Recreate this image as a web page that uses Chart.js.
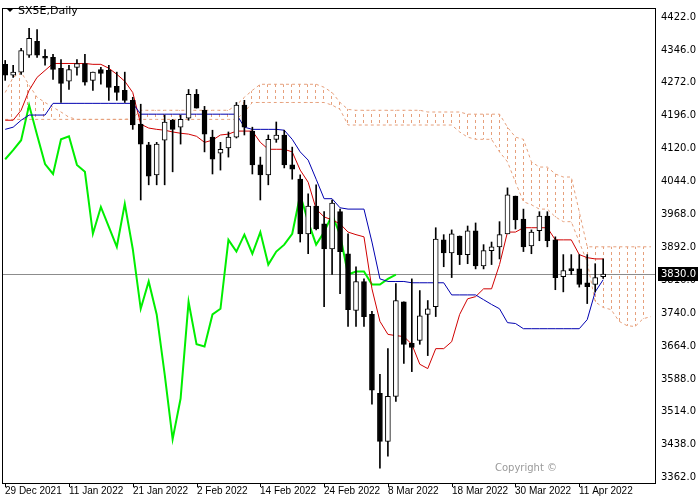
<!DOCTYPE html>
<html>
<head>
<meta charset="utf-8">
<script src="https://cdn.jsdelivr.net/npm/chart.js@4/dist/chart.umd.min.js"></script>
<style>
  body { margin: 0; background: #fff; }
  #wrap { width: 700px; height: 500px; }
</style>
</head>
<body>
<div id="wrap"><canvas id="chart" width="700" height="500"></canvas></div>
<script>
// SX5E daily, 29 Dec 2021 .. 14 Apr 2022, with Ichimoku lines
const opens  = [4314,4289,4296,4335,4367,4330,4330,4305,4275,4307,4316,4277,4302,4300,4263,4254,4231,4176,4128,4059,
                4139,4185,4169,4190,4245,4208,4146,4109,4121,4146,4220,4160,4082,4059,4141,4151,4082,4049,3923,3987,
                3946,3888,3974,3877,3746,3813,3737,3555,3444,3548,3766,3670,3677,3737,3755,3909,3879,3918,3875,3930,
                3849,3884,3893,3923,4010,3957,3895,3930,3964,3909,3824,3840,3842,3810,3806,3824];
const highs  = [4323,4312,4351,4397,4394,4348,4337,4325,4312,4325,4337,4296,4307,4312,4296,4296,4238,4222,4134,4134,
                4197,4187,4197,4256,4256,4217,4162,4134,4158,4226,4231,4169,4100,4151,4181,4162,4123,4059,4015,4036,
                3974,4001,3980,3923,3847,3819,3744,3599,3658,3808,3766,3819,3792,3769,3937,3921,3932,3918,3941,3948,
                3898,3904,3951,4029,4010,3980,3932,3974,3974,3916,3875,3875,3875,3875,3854,3865];
const lows   = [4277,4284,4291,4330,4330,4312,4279,4226,4256,4289,4266,4254,4268,4231,4231,4226,4164,4001,4036,4036,
                4036,4066,4130,4185,4213,4112,4061,4070,4100,4144,4151,4061,4001,4036,4134,4075,4049,3904,3877,3932,
                3755,3829,3785,3709,3709,3709,3530,3382,3410,3536,3624,3605,3668,3642,3732,3847,3822,3852,3854,3842,
                3842,3852,3865,3923,3934,3882,3877,3907,3893,3794,3789,3829,3800,3762,3789,3820];
const closes = [4289,4296,4346,4374,4335,4328,4302,4270,4302,4316,4273,4296,4293,4261,4249,4231,4174,4130,4056,4130,
                4181,4164,4187,4245,4213,4153,4095,4118,4146,4220,4169,4082,4059,4141,4151,4082,4072,3923,3987,3934,
                3888,3994,3882,3748,3813,3732,3562,3444,3548,3769,3668,3661,3734,3750,3911,3879,3923,3875,3930,3849,
                3884,3893,3921,4013,3955,3893,3927,3964,3907,3822,3838,3838,3806,3801,3822,3830];

const tenkan = [4185,4185,4208,4254,4284,4300,4316,4316,4316,4316,4316,4314,4314,4305,4291,4275,4249,4176,4167,4164,
                4162,4158,4155,4153,4148,4134,4139,4151,4153,4160,4160,4160,4134,4118,4118,4118,4112,4070,4042,3980,
                3962,3955,3946,3927,3921,3916,3796,3721,3691,3688,3686,3668,3622,3612,3658,3658,3674,3737,3773,3778,
                3796,3796,3852,3927,3927,3937,3937,3937,3937,3909,3909,3909,3875,3868,3865,3865];
const kijun  = [4164,4169,4185,4197,4197,4197,4224,4224,4224,4224,4224,4224,4224,4224,4224,4224,4224,4199,4199,4199,
                4199,4199,4199,4199,4199,4199,4199,4199,4199,4199,4169,4164,4164,4164,4164,4162,4141,4112,4093,4049,
                4004,4004,3983,3980,3980,3980,3904,3819,3813,3813,3813,3810,3810,3810,3810,3810,3782,3782,3782,3782,
                3771,3760,3750,3718,3716,3704,3704,3704,3704,3704,3704,3704,3704,3725,3789,3817];
// lagging span (close shifted 26 bars back)
const chikou = [4095,4116,4139,4220,4151,4084,4061,4141,4148,4082,4066,3923,3985,3939,3893,3992,3888,3750,3813,3737,
                3599,3449,3543,3766,3668,3663,3737,3750,3909,3882,3921,3877,3927,3852,3882,3898,3923,4013,3951,3898,
                3927,3967,3921,3829,3836,3836,3806,3806,3819,3829];
// cloud spans (run 6 bars past the last candle)
const spanA  = [4249,4284,4296,4266,4238,4226,4215,4204,4192,4187,4187,4187,4187,4187,4187,4187,4190,4208,4208,4208,
                4208,4208,4208,4208,4208,4208,4208,4208,4208,4220,4238,4254,4268,4268,4268,4268,4268,4268,4268,4268,
                4261,4249,4226,4210,4208,4208,4208,4208,4208,4208,4208,4208,4208,4204,4204,4204,4204,4204,4199,4199,
                4199,4199,4199,4169,4146,4141,4089,4077,4077,4061,4054,4054,3974,3893,3893,3893,3893,3893,3893,3893,
                3893,3893];
const spanB  = [4187,4187,4187,4187,4187,4187,4187,4187,4187,4187,4187,4187,4187,4187,4187,4187,4187,4187,4187,4187,
                4187,4187,4187,4187,4187,4187,4187,4187,4187,4187,4204,4226,4226,4226,4226,4226,4226,4226,4226,4226,
                4226,4220,4210,4174,4174,4174,4174,4174,4174,4174,4174,4174,4174,4174,4174,4174,4174,4158,4146,4141,
                4141,4141,4112,4089,4042,3997,3990,3980,3980,3962,3951,3951,3904,3858,3766,3753,3748,3721,3711,3709,
                3727,3732];

const dateLabels = ['29 Dec 2021','11 Jan 2022','21 Jan 2022','2 Feb 2022','14 Feb 2022',
                    '24 Feb 2022','8 Mar 2022','18 Mar 2022','30 Mar 2022','11 Apr 2022'];
const priceTicks = [3362,3438,3514,3588,3664,3740,3816,3892,3968,4044,4120,4196,4272,4346,4422];

const pts = arr => arr.map((v, i) => ({ x: i, y: v }));
const lastClose = closes[closes.length - 1];

// vertical dashed hatching for the cloud
function hatchPattern() {
    const c = document.createElement('canvas');
    c.width = 8; c.height = 6;
    const g = c.getContext('2d');
    g.fillStyle = '#e6a07c';
    g.fillRect(3, 0, 1, 3);
    return g.createPattern(c, 'repeat');
}

const framePlugin = {
    id: 'frame',
    beforeDatasetsDraw(chart) {
        const { ctx, chartArea: a, scales } = chart;
        const y = Math.round(scales.y.getPixelForValue(lastClose)) + 0.5;
        ctx.save();
        ctx.strokeStyle = '#8c8c8c';
        ctx.lineWidth = 1;
        ctx.beginPath(); ctx.moveTo(a.left, y); ctx.lineTo(a.right, y); ctx.stroke();
        ctx.restore();
    },
    afterDraw(chart) {
        const { ctx, chartArea: a, scales } = chart;
        ctx.save();
        ctx.strokeStyle = '#000';
        ctx.lineWidth = 1;
        ctx.strokeRect(a.left + 0.5, a.top + 0.5, a.right - a.left, a.bottom - a.top);
        // date labels, left-aligned at their bar
        ctx.fillStyle = '#000';
        ctx.font = '10px "Liberation Sans"';
        ctx.textBaseline = 'top';
        dateLabels.forEach((t, k) => {
            const x = Math.round(scales.x.getPixelForValue(k * 8));
            ctx.fillRect(x, a.bottom, 1, 4);
            ctx.fillText(t, x, a.bottom + 3);
        });
        // title
        ctx.beginPath(); ctx.moveTo(6, 8); ctx.lineTo(14, 8); ctx.lineTo(10, 12); ctx.fill();
        ctx.font = '11px "DejaVu Sans"';
        ctx.textBaseline = 'middle';
        ctx.fillText('SX5E,Daily', 18, 11);
        // last price tag
        const y = Math.round(scales.y.getPixelForValue(lastClose));
        ctx.fillRect(a.right + 3, y - 7, 40, 14);
        ctx.fillStyle = '#fff';
        ctx.font = '10px "DejaVu Sans"';
        ctx.fillText(lastClose.toFixed(1), a.right + 6, y);
        // watermark
        ctx.fillStyle = '#9a9a9a';
        ctx.fillText('Copyright ©', a.right - 160, a.bottom - 15);
        ctx.restore();
    }
};

const ctx = document.getElementById('chart').getContext('2d');
new Chart(ctx, {
    data: {
        datasets: [
            { type: 'line', data: pts(spanA), borderColor: '#e6a07c', borderWidth: 1, borderDash: [3, 3],
              pointRadius: 0, fill: '+1', backgroundColor: hatchPattern(), order: 5 },
            { type: 'line', data: pts(spanB), borderColor: '#e6a07c', borderWidth: 1, borderDash: [3, 3],
              pointRadius: 0, fill: false, order: 5 },
            { type: 'line', data: pts(chikou), borderColor: '#00ee00', borderWidth: 2, pointRadius: 0, order: 4 },
            { type: 'line', data: pts(kijun), borderColor: '#0000b0', borderWidth: 1, pointRadius: 0, order: 3 },
            { type: 'line', data: pts(tenkan), borderColor: '#d00000', borderWidth: 1, pointRadius: 0, order: 3 },
            { type: 'bar', data: lows.map((l, i) => ({ x: i, y: [l, highs[i]] })), backgroundColor: '#000',
              barThickness: 1, grouped: false, order: 2 },
            { type: 'bar', data: opens.map((o, i) => ({ x: i, y: [o, closes[i]] })),
              backgroundColor: opens.map((o, i) => closes[i] >= o ? '#fff' : '#000'),
              borderColor: '#000', borderWidth: 1, borderSkipped: false, minBarLength: 2,
              barThickness: 5, grouped: false, order: 1 }
        ]
    },
    options: {
        responsive: false,
        animation: false,
        layout: { padding: { left: 2, top: 3, right: 0, bottom: 0 } },
        plugins: { legend: { display: false }, tooltip: { enabled: false } },
        scales: {
            x: {
                type: 'linear', min: -0.4, max: 81.5, offset: false,
                grid: { display: false },
                border: { display: false },
                ticks: { display: false },
                afterFit: s => { s.height = 17; }
            },
            y: {
                position: 'right', min: 3348, max: 4444,
                grid: { display: false, drawTicks: true, tickLength: 4, tickColor: '#000' },
                border: { display: false },
                afterBuildTicks: s => { s.ticks = priceTicks.map(v => ({ value: v })); },
                ticks: {
                    padding: 2, color: '#000', font: { family: 'DejaVu Sans', size: 10 },
                    callback: v => v.toFixed(1)
                },
                afterFit: s => { s.width = 45; }
            }
        }
    },
    plugins: [framePlugin]
});
</script>
</body>
</html>
